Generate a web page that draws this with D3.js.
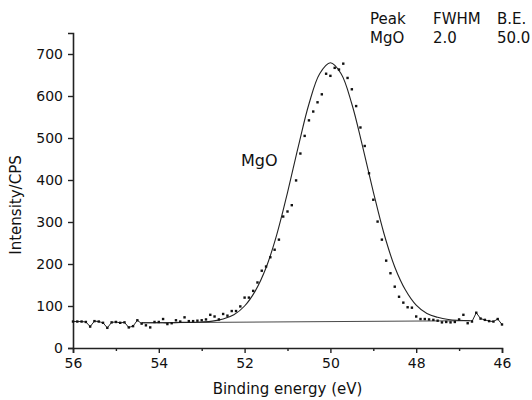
<!DOCTYPE html>
<html>
<head>
<meta charset="utf-8">
<script src="https://cdn.jsdelivr.net/npm/d3@7"></script>
<style>
  body { margin: 0; background: #fff; }
  svg { font-family: "DejaVu Sans", Verdana, sans-serif; }
</style>
</head>
<body>
<div id="chart"></div>
<script>
// measured spectrum, 0.1 eV steps from 56.0 down to 46.0
const energies = d3.range(0, 101).map(i => +(56 - i * 0.1).toFixed(1));
const counts = [
  63, 63, 63, 62, 51, 64, 63, 60, 48, 61,
  62, 60, 61, 49, 52, 66, 58, 54, 49, 62,
  62, 69, 57, 59, 66, 63, 73, 64, 64, 65,
  66, 68, 79, 75, 68, 81, 77, 88, 88, 99,
  120, 120, 136, 156, 184, 194, 216, 234, 258, 313,
  325, 340, 399, 463, 505, 542, 563, 585, 604, 653,
  648, 667, 663, 677, 643, 616, 576, 525, 481, 416,
  353, 301, 258, 208, 178, 146, 122, 108, 97, 96,
  75, 69, 69, 68, 67, 65, 61, 62, 61, 62,
  68, 79, 59, 63, 84, 70, 67, 64, 63, 69,
  56
];

// fitted envelope (MgO component + background)
const fitEnergies = [54.4, 54.25, 54.0, 53.75, 53.5, 53.25, 53.0, 52.75, 52.5, 52.25,
  52.0, 51.75, 51.5, 51.25, 51.0, 50.75, 50.5, 50.25, 50.0, 49.75,
  49.5, 49.25, 49.0, 48.75, 48.5, 48.25, 48.0, 47.75, 47.5, 47.25, 47.0, 46.75];
const fitCounts = [60, 60, 60, 60, 61, 61, 62, 64, 69, 79,
  100, 136, 191, 270, 370, 479, 581, 653, 679, 653,
  581, 480, 372, 272, 193, 138, 102, 82, 73, 68, 66, 65];

const bgEnergies = [54.4, 46.7];
const bgCounts = [60, 65];

const xTicks = [56, 54, 52, 50, 48, 46];
const xMinorTicks = [55, 53, 51, 49, 47];
const yTicks = [0, 100, 200, 300, 400, 500, 600, 700];

const tableHead = ["Peak", "FWHM", "B.E."];
const tableRow = ["MgO", "2.0", "50.0"];

const W = 532, H = 400;
const margin = { top: 33, right: 30, bottom: 52, left: 73 },
  width = W - margin.left - margin.right,
  height = H - margin.top - margin.bottom;

const svg = d3.select("#chart").append("svg")
  .attr("width", W).attr("height", H);
const g = svg.append("g").attr("transform", `translate(${margin.left},${margin.top})`);

const x = d3.scaleLinear().domain([56, 46]).range([0, width]);
const y = d3.scaleLinear().domain([0, 750]).range([height, 0]);

const ink = "#222";

// axes
const xAxis = g.append("g").attr("transform", `translate(0,${height})`)
  .call(d3.axisBottom(x).tickValues(xTicks).tickSize(5).tickSizeOuter(5).tickPadding(5));
g.append("g").attr("transform", `translate(0,${height})`)
  .call(d3.axisBottom(x).tickValues(xMinorTicks).tickSize(3).tickSizeOuter(0).tickFormat(""))
  .call(a => a.select(".domain").remove());
const yAxis = g.append("g")
  .call(d3.axisLeft(y).tickValues(yTicks).tickSize(5).tickSizeOuter(5).tickPadding(5));

[xAxis, yAxis].forEach(a => {
  a.select(".domain").attr("stroke", ink).attr("stroke-width", 1.6);
  a.selectAll(".tick line").attr("stroke", ink).attr("stroke-width", 1.4);
  a.selectAll(".tick text").attr("fill", "#111").style("font-size", "14px")
    .style("font-family", "'DejaVu Sans', Verdana, sans-serif");
});
g.selectAll(".tick line").attr("stroke", ink).attr("stroke-width", 1.4);

// axis titles
svg.append("text")
  .attr("x", margin.left + width / 2).attr("y", 394)
  .attr("text-anchor", "middle").attr("fill", "#111")
  .style("font-size", "15px")
  .text("Binding energy (eV)");
svg.append("text")
  .attr("transform", "translate(21,205) rotate(-90)")
  .attr("text-anchor", "middle").attr("fill", "#111")
  .style("font-size", "15px")
  .text("Intensity/CPS");

const pts = energies.map((e, i) => ({ e: e, c: counts[i] }));

// raw data drawn as line outside the fitting window
const line = d3.line().x(d => x(d.e)).y(d => y(d.c));
g.append("path").datum(pts.filter(d => d.e >= 54.4))
  .attr("d", line).attr("fill", "none").attr("stroke", ink).attr("stroke-width", 1);
g.append("path").datum(pts.filter(d => d.e <= 46.7))
  .attr("d", line).attr("fill", "none").attr("stroke", ink).attr("stroke-width", 1);

// background
g.append("path").datum(bgEnergies.map((e, i) => ({ e: e, c: bgCounts[i] })))
  .attr("d", line).attr("fill", "none").attr("stroke", "#333").attr("stroke-width", 0.9);

// fit envelope
g.append("path").datum(fitEnergies.map((e, i) => ({ e: e, c: fitCounts[i] })))
  .attr("d", d3.line().x(d => x(d.e)).y(d => y(d.c)).curve(d3.curveCatmullRom))
  .attr("fill", "none").attr("stroke", ink).attr("stroke-width", 1.1);

// data points
g.append("g").selectAll("rect").data(pts).join("rect")
  .attr("x", d => x(d.e) - 1.2).attr("y", d => y(d.c) - 1.2)
  .attr("width", 2.4).attr("height", 2.4).attr("fill", "#111");

// peak label
svg.append("text").attr("x", 241).attr("y", 166)
  .attr("fill", "#111").style("font-size", "16px").text("MgO");

// fit table
const colX = [370, 433, 497];
svg.append("g").selectAll("text").data(tableHead).join("text")
  .attr("x", (d, i) => colX[i]).attr("y", 24)
  .attr("fill", "#111").style("font-size", "15px").text(d => d);
svg.append("g").selectAll("text").data(tableRow).join("text")
  .attr("x", (d, i) => colX[i]).attr("y", 43)
  .attr("fill", "#111").style("font-size", "15px").text(d => d);
</script>
</body>
</html>
